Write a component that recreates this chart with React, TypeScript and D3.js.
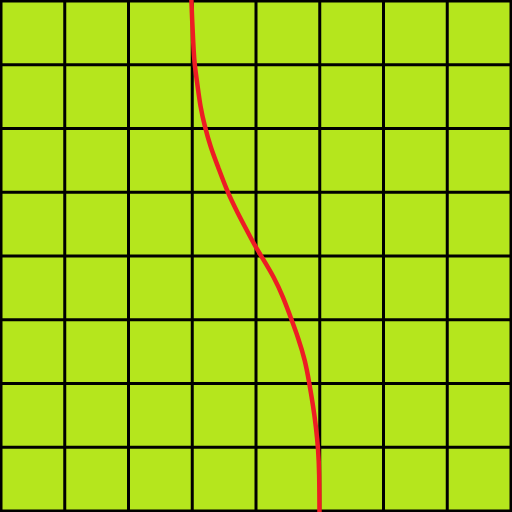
import React from 'react';
import * as d3 from 'd3';

// grid positions (cell units) and the curve
const gridTicks = [0, 1, 2, 3, 4, 5, 6, 7, 8];
const curveY = [8.05, 7.66, 7.34, 7.03, 6.71, 6.34, 6.02, 5.71, 5.4, 5.0, 4.68, 4.36, 4.14, 3.98, 3.67, 3.36, 3.01, 2.71, 2.37, 2.01, 1.63, 1.32, 0.96, 0.6, -0.05];
const curveX = [2.985, 3.0, 3.016, 3.032, 3.079, 3.126, 3.2, 3.286, 3.404, 3.553, 3.71, 3.879, 3.995, 4.094, 4.282, 4.424, 4.554, 4.664, 4.769, 4.836, 4.899, 4.941, 4.977, 4.993, 4.996];

const W = 512;
const H = 512;

export default function App() {
  const x = d3.scaleLinear().domain([0, 8]).range([1, 511]);
  const y = d3.scaleLinear().domain([0, 8]).range([511, 1]);

  const pts: [number, number][] = curveY.map((v, i) => [curveX[i], v]);
  // basis smooths out the small reading noise
  const line = d3.line<[number, number]>()
    .x(d => x(d[0]))
    .y(d => y(d[1]))
    .curve(d3.curveBasis);

  return (
    <svg
      width={W}
      height={H}
      style={{ position: 'absolute', left: 0, top: 0, display: 'block' }}
    >
      <rect x={0} y={0} width={W} height={H} fill="#b5e61d" />
      {/* grid */}
      <g stroke="#000" strokeWidth={3}>
        {gridTicks.map(t => (
          <line key={'v' + t} x1={x(t)} x2={x(t)} y1={0} y2={H} />
        ))}
        {gridTicks.map(t => (
          <line key={'h' + t} x1={0} x2={W} y1={y(t)} y2={y(t)} />
        ))}
      </g>
      <path d={line(pts) || ''} fill="none" stroke="#ed1c24" strokeWidth={4.5} />
    </svg>
  );
}
